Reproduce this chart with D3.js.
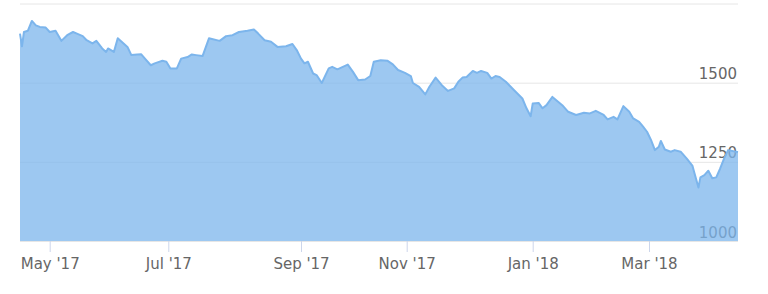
<!DOCTYPE html>
<html>
<head>
<meta charset="utf-8">
<script src="https://cdn.jsdelivr.net/npm/d3@7"></script>
<style>
	body { margin: 0; background: #fff; }
	svg text { font-family: "DejaVu Sans", Verdana, sans-serif; }
</style>
</head>
<body>
<div id="chartDiv"></div>
<script>
// series
const dates = [
	'2017-04-16','2017-04-17','2017-04-18','2017-04-20','2017-04-22','2017-04-24','2017-04-26','2017-04-29',
	'2017-05-01','2017-05-04','2017-05-07','2017-05-10','2017-05-13','2017-05-15','2017-05-18','2017-05-20',
	'2017-05-23','2017-05-25','2017-05-28','2017-05-30','2017-05-31','2017-06-03','2017-06-05','2017-06-07',
	'2017-06-10','2017-06-12','2017-06-15','2017-06-17','2017-06-19','2017-06-22','2017-06-24','2017-06-28',
	'2017-06-30','2017-07-02','2017-07-05','2017-07-07','2017-07-10','2017-07-12','2017-07-14','2017-07-17',
	'2017-07-20','2017-07-25','2017-07-28','2017-07-31','2017-08-03','2017-08-07','2017-08-10','2017-08-12',
	'2017-08-15','2017-08-18','2017-08-21','2017-08-25','2017-08-28','2017-08-30','2017-09-01','2017-09-03',
	'2017-09-05','2017-09-08','2017-09-10','2017-09-13','2017-09-17','2017-09-19','2017-09-22','2017-09-28',
	'2017-10-01','2017-10-04','2017-10-08','2017-10-11','2017-10-13','2017-10-17','2017-10-21','2017-10-24',
	'2017-10-27','2017-10-31','2017-11-03','2017-11-04','2017-11-07','2017-11-10','2017-11-12','2017-11-15',
	'2017-11-18','2017-11-21','2017-11-24','2017-11-26','2017-11-28','2017-11-30','2017-12-03','2017-12-05',
	'2017-12-07','2017-12-10','2017-12-12','2017-12-14','2017-12-16','2017-12-19','2017-12-23','2017-12-27',
	'2017-12-29','2017-12-31','2018-01-01','2018-01-04','2018-01-06','2018-01-08','2018-01-11','2018-01-16',
	'2018-01-19','2018-01-23','2018-01-27','2018-01-30','2018-02-02','2018-02-06','2018-02-08','2018-02-11',
	'2018-02-13','2018-02-16','2018-02-19','2018-02-21','2018-02-24','2018-02-26','2018-02-28','2018-03-02',
	'2018-03-04','2018-03-06','2018-03-07','2018-03-09','2018-03-12','2018-03-14','2018-03-17','2018-03-20',
	'2018-03-23','2018-03-24','2018-03-26','2018-03-27','2018-03-29','2018-03-31','2018-04-02','2018-04-04',
	'2018-04-06','2018-04-08','2018-04-10','2018-04-14','2018-04-15'
];
const values = [
	1655,1615,1660,1664,1695,1681,1676,1674,
	1660,1664,1632,1650,1660,1655,1647,1634,
	1624,1632,1608,1597,1608,1597,1640,1629,
	1613,1587,1589,1590,1576,1555,1561,1569,
	1566,1545,1545,1576,1581,1589,1587,1584,
	1640,1632,1647,1650,1660,1664,1668,1655,
	1634,1629,1613,1615,1622,1603,1576,1561,
	1566,1529,1524,1499,1545,1550,1542,1557,
	1534,1508,1510,1521,1566,1571,1569,1558,
	1540,1531,1521,1499,1487,1463,1487,1516,
	1492,1474,1482,1503,1516,1518,1537,1531,
	1537,1531,1513,1521,1518,1503,1476,1450,
	1419,1394,1434,1436,1419,1429,1455,1429,
	1408,1398,1405,1403,1411,1398,1384,1392,
	1384,1426,1408,1387,1376,1361,1345,1319,
	1287,1298,1316,1289,1282,1287,1282,1261,
	1237,1214,1169,1201,1208,1222,1198,1201,
	1229,1261,1287,1282,1281
];
const tickDates = ['2017-05-01','2017-07-01','2017-09-01','2017-11-01','2018-01-01','2018-03-01'];
const yTicks = [1000, 1250, 1500, 1750];
const yLabelled = [1000, 1250, 1500];

var displayChart = function(){
	var canvasW = 768;
	var canvasH = 294;
	const svg = d3.select('#chartDiv')
		.append('svg')
		.attr('width', canvasW)
		.attr('height', canvasH);

	const margin = {top: 3.5, right: 30, bottom: 53, left: 20};
	const graphWidth = canvasW - margin.left - margin.right;
	const graphHeight = canvasH - margin.top - margin.bottom;

	const graph = svg.append('g')
		.attr('transform', `translate(${margin.left},${margin.top})`);

	const parse = d3.timeParse('%Y-%m-%d');
	const data = dates.map((d, i) => ({date: parse(d), value: values[i]}));
	const ticks = tickDates.map(parse);

	// the source axis is not evenly spaced in time (gaps skipped),
	// so the scale is pinned at each month tick
	const x = d3.scaleTime()
		.domain([data[0].date, ...ticks, data[data.length - 1].date])
		.range([0, 29.7, 148.3, 281, 386.7, 512.7, 629, graphWidth]);
	const y = d3.scaleLinear()
		.domain([1000, 1750])
		.range([graphHeight, 0]);

	// grid + y labels
	const yAxis = d3.axisLeft(y)
		.tickValues(yTicks)
		.tickSize(-graphWidth)
		.tickFormat(d3.format('d'));
	const yAxisGroup = graph.append('g').call(yAxis);
	yAxisGroup.select('.domain').remove();
	yAxisGroup.selectAll('line').attr('stroke', '#e6e6e6');
	yAxisGroup.selectAll('text')
		.attr('x', graphWidth - 1)
		.attr('y', -4)
		.attr('dy', null)
		.attr('text-anchor', 'end')
		.attr('fill', '#666')
		.style('font-size', '15px')
		.style('display', d => yLabelled.includes(d) ? null : 'none');

	// area + line
	const area = d3.area()
		.x(d => x(d.date))
		.y0(graphHeight)
		.y1(d => y(d.value));
	const line = d3.line()
		.x(d => x(d.date))
		.y(d => y(d.value));

	graph.append('path')
		.datum(data)
		.attr('d', area)
		.attr('fill', '#7cb5ec')
		.attr('fill-opacity', 0.75);
	graph.append('path')
		.datum(data)
		.attr('d', line)
		.attr('fill', 'none')
		.attr('stroke', '#7cb5ec')
		.attr('stroke-width', 2)
		.attr('stroke-linejoin', 'round');

	// x axis
	const xAxis = d3.axisBottom(x)
		.tickValues(ticks)
		.tickSize(11)
		.tickFormat(d3.timeFormat("%b '%y"));
	const xAxisGroup = graph.append('g')
		.attr('transform', `translate(0, ${graphHeight})`)
		.call(xAxis);
	xAxisGroup.select('.domain').remove();
	xAxisGroup.selectAll('line').attr('stroke', '#ccd6eb');
	xAxisGroup.selectAll('text')
		.attr('y', 28)
		.attr('dy', null)
		.attr('fill', '#666')
		.style('font-size', '15px');
}

displayChart();
</script>
</body>
</html>
